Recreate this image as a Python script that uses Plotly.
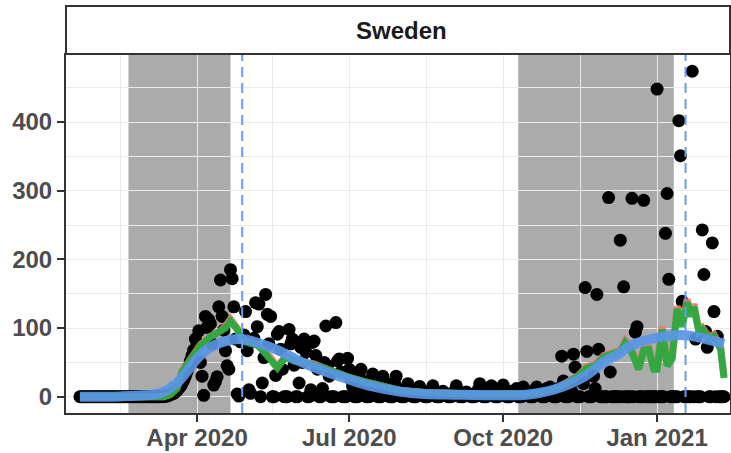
import pandas as pd
import plotly.graph_objects as go

# ---- daily reported deaths (points), by month ----
jan2020 = [0, 0, 0, 0, 0, 0, 0, 0, 0, 0]  # from Jan 22
feb2020 = [0, 0, 0, 0, 0, 0, 0, 0, 0, 0,
           0, 0, 0, 0, 0, 0, 0, 0, 0, 0,
           0, 0, 0, 0, 0, 0, 0, 0, 0]
mar2020 = [0, 0, 0, 0, 0, 0, 0, 0, 0, 0,
           1, 0, 1, 1, 2, 3, 4, 5, 7, 9,
           12, 15, 19, 24, 30, 36, 44, 52, 60, 68, 84]
apr2020 = [74, 96, 50, 30, 2, 117, 101, 112, 106, 77,
           17, 22, 29, 131, 170, 117, 97, 67, 45, 40,
           185, 172, 131, 84, 4, 1, 80, 81, 90, 124]
may2020 = [67, 10, 5, 80, 85, 137, 102, 135, 0, 20,
           57, 149, 120, 77, 117, 0, 0, 31, 91, 95,
           69, 40, 0, 0, 0, 98, 77, 84, 46, 0, 0]
jun2020 = [20, 72, 50, 84, 65, 0, 0, 10, 79, 81,
           60, 40, 0, 0, 12, 50, 103, 45, 30, 0,
           0, 0, 108, 52, 55, 36, 0, 0, 0, 56]
jul2020 = [40, 25, 15, 0, 0, 0, 30, 40, 22, 12,
           0, 0, 0, 25, 33, 18, 10, 0, 0, 0,
           30, 15, 20, 8, 0, 0, 0, 20, 30, 12, 8]
aug2020 = [0, 0, 0, 10, 19, 8, 5, 0, 0, 0,
           12, 15, 6, 4, 0, 0, 0, 8, 10, 16,
           3, 0, 0, 0, 6, 8, 4, 2, 0, 0, 0]
sep2020 = [6, 8, 16, 2, 0, 0, 0, 5, 7, 3,
           1, 0, 0, 0, 6, 10, 19, 4, 0, 0,
           0, 8, 12, 16, 3, 0, 0, 0, 6, 9]
oct2020 = [17, 4, 0, 0, 0, 8, 5, 3, 12, 0,
           0, 0, 14, 8, 6, 4, 0, 0, 0, 10,
           14, 7, 5, 0, 0, 0, 12, 9, 14, 6, 0]
nov2020 = [0, 0, 12, 9, 59, 23, 0, 0, 0, 15,
           8, 62, 43, 0, 0, 0, 22, 19, 159, 66,
           0, 0, 0, 30, 12, 149, 69, 0, 0, 0]
dec2020 = [0, 0, 290, 36, 0, 0, 0, 0, 0, 228,
           0, 160, 0, 0, 0, 0, 289, 0, 94, 102,
           0, 0, 0, 286, 0, 0, 0, 0, 0, 0, 0]
jan2021 = [448, 0, 0, 0, 0, 238, 296, 171, 0, 0,
           0, 0, 0, 402, 351, 139, 0, 0, 0, 0,
           0, 474, 0, 84, 0, 0, 0, 243, 178, 95, 72]
feb2021 = [0, 0, 224, 124, 0, 88, 0, 0, 0, 0]

daily_start = "2020-01-22"

# ---- short-window average lines (green over red) ----
avg_dates = ["2020-01-22", "2020-03-12", "2020-03-16", "2020-03-20", "2020-03-23",
             "2020-03-29", "2020-04-03", "2020-04-09", "2020-04-15", "2020-04-18",
             "2020-04-21", "2020-04-25", "2020-04-28", "2020-05-03", "2020-05-07",
             "2020-05-10", "2020-05-14", "2020-05-19", "2020-05-24", "2020-05-29",
             "2020-06-05", "2020-06-10", "2020-06-15", "2020-06-20", "2020-06-25",
             "2020-07-01", "2020-07-10", "2020-07-20", "2020-08-01", "2020-08-15",
             "2020-09-01", "2020-09-15", "2020-10-01", "2020-10-15", "2020-10-25",
             "2020-11-01", "2020-11-08", "2020-11-15", "2020-11-20", "2020-11-25",
             "2020-11-30", "2020-12-05", "2020-12-10", "2020-12-13", "2020-12-16",
             "2020-12-21", "2020-12-24", "2020-12-27", "2020-12-30", "2021-01-01",
             "2021-01-04", "2021-01-07", "2021-01-10", "2021-01-13", "2021-01-16",
             "2021-01-19", "2021-01-21", "2021-01-23", "2021-01-26", "2021-01-28",
             "2021-02-01", "2021-02-04", "2021-02-08", "2021-02-10"]
green_vals = [0, 0, 3, 12, 36,
              59, 74, 87, 94, 100,
              110, 98, 81, 79, 75,
              68, 58, 42, 58, 52,
              50, 47, 42, 38, 33,
              28, 22, 15, 9, 6,
              4, 4, 4, 4, 7,
              11, 20, 30, 42, 45,
              58, 62, 66, 79, 70,
              40, 68, 69, 40, 40,
              98, 45, 55, 128, 102,
              137, 117, 131, 94, 98,
              84, 88, 69, 27]
red_vals = [0, 0, 3, 13, 37,
            60, 76, 88, 96, 103,
            113, 100, 83, 80, 76,
            69, 60, 44, 59, 53,
            51, 48, 43, 38, 33,
            28, 22, 15, 9, 6,
            4, 4, 4, 4, 7,
            12, 21, 31, 44, 47,
            60, 64, 68, 82, 73,
            43, 71, 72, 43, 43,
            102, 48, 58, 132, 106,
            142, 121, 135, 97, 101,
            87, 91, 72, 30]

# ---- smooth trend (blue) ----
trend_dates = ["2020-01-22", "2020-02-15", "2020-03-01", "2020-03-10", "2020-03-20",
               "2020-03-27", "2020-04-02", "2020-04-09", "2020-04-18", "2020-04-27",
               "2020-05-08", "2020-05-20", "2020-06-01", "2020-06-15", "2020-07-01",
               "2020-07-15", "2020-08-01", "2020-08-15", "2020-09-01", "2020-10-01",
               "2020-10-15", "2020-11-01", "2020-11-19", "2020-12-01", "2020-12-09",
               "2020-12-16", "2021-01-01", "2021-01-15", "2021-01-25", "2021-02-10"]
trend_vals = [0, 0.5, 2, 5, 20,
              40, 58, 72, 81, 84,
              78, 67, 52, 38, 25,
              15, 7, 4, 3, 2,
              3, 11, 30, 52, 62,
              74, 86, 90, 87, 77]

# ---- annotations ----
shade_periods = [("2020-02-20", "2020-04-21"), ("2020-10-10", "2021-01-11")]
event_dates = ["2020-04-28", "2021-01-18"]
panel_title = "Sweden"
x_tick_vals = ["2020-04-01", "2020-07-01", "2020-10-01", "2021-01-01"]
x_tick_text = ["Apr 2020", "Jul 2020", "Oct 2020", "Jan 2021"]
x_minor_vals = ["2020-02-15", "2020-05-16", "2020-08-16", "2020-11-16"]
y_tick_vals = [0, 100, 200, 300, 400]
y_minor_vals = [50, 150, 250, 350, 450]

deaths = (jan2020 + feb2020 + mar2020 + apr2020 + may2020 + jun2020 + jul2020 +
          aug2020 + sep2020 + oct2020 + nov2020 + dec2020 + jan2021 + feb2021)
dates = pd.date_range(daily_start, periods=len(deaths), freq="D")

fig = go.Figure()
fig.add_trace(go.Scatter(x=dates, y=deaths, mode="markers",
                         marker=dict(color="black", size=13, line=dict(width=0)),
                         hoverinfo="skip"))
fig.add_trace(go.Scatter(x=avg_dates, y=red_vals, mode="lines",
                         line=dict(color="rgba(240,120,105,0.9)", width=7)))
fig.add_trace(go.Scatter(x=avg_dates, y=green_vals, mode="lines",
                         line=dict(color="rgba(36,170,60,0.92)", width=7)))
fig.add_trace(go.Scatter(x=trend_dates, y=trend_vals, mode="lines",
                         line=dict(color="rgba(88,150,228,0.92)", width=10,
                                   shape="spline", smoothing=1.0)))

for x0, x1 in shade_periods:
    fig.add_shape(type="rect", xref="x", yref="paper", x0=x0, x1=x1, y0=0, y1=1,
                  fillcolor="rgba(0,0,0,0.33)", line=dict(width=0), layer="between")
for d in event_dates:
    fig.add_shape(type="line", xref="x", yref="paper", x0=d, x1=d, y0=0, y1=1,
                  line=dict(color="#619CFF", width=2, dash="10px,6px"), layer="above")

# strip
H_PLOT = 453 - 55 - 40
fig.add_shape(type="rect", xref="paper", yref="paper", x0=0, x1=1,
              y0=1 + 1 / H_PLOT, y1=1 + 49 / H_PLOT,
              fillcolor="white", line=dict(color="#333333", width=2), layer="above")
fig.add_annotation(text=panel_title, xref="paper", yref="paper", x=0.505,
                   y=1 + 25 / H_PLOT, showarrow=False, yanchor="middle",
                   font=dict(family="Liberation Sans", size=24, color="#1A1A1A",
                             weight="bold"))

axis_font = dict(family="Liberation Sans", size=24, color="#4D4D4D", weight="bold")
fig.update_xaxes(range=["2020-01-13 16:00", "2021-02-13 14:00"], automargin=False,
                 tickmode="array", tickvals=x_tick_vals, ticktext=x_tick_text,
                 tickfont=axis_font, ticks="outside", ticklen=7, tickwidth=2,
                 ticklabelstandoff=-5,
                 tickcolor="#333333", showgrid=True, gridcolor="#EBEBEB", gridwidth=1.4,
                 minor=dict(tickmode="array", tickvals=x_minor_vals, showgrid=True,
                            gridcolor="#EBEBEB", gridwidth=0.8, ticks=""),
                 showline=True, linecolor="#333333", linewidth=2, mirror=True,
                 zeroline=False)
fig.update_yaxes(range=[-23.7, 497.7], automargin=False, tickmode="array",
                 tickvals=y_tick_vals,
                 tickfont=axis_font, ticks="outside", ticklen=7, tickwidth=2,
                 tickcolor="#333333", showgrid=True, gridcolor="#EBEBEB", gridwidth=1.4,
                 minor=dict(tickmode="array", tickvals=y_minor_vals, showgrid=True,
                            gridcolor="#EBEBEB", gridwidth=0.8, ticks=""),
                 showline=True, linecolor="#333333", linewidth=2, mirror=True,
                 zeroline=False)

fig.update_layout(width=731, height=453, showlegend=False,
                  margin=dict(l=66, r=1, t=55, b=40, autoexpand=False),
                  plot_bgcolor="white", paper_bgcolor="white")

fig.write_html("out.html", config={"displayModeBar": False},
               post_script="document.body.style.margin='0px';"
                           "document.body.style.overflow='hidden';")
